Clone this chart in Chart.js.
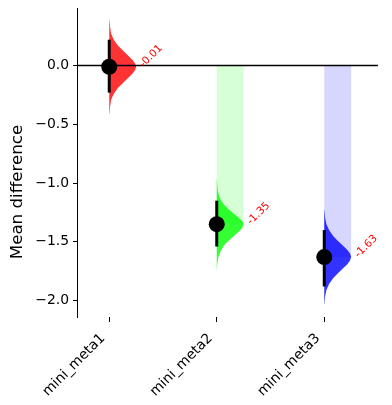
<!DOCTYPE html>
<html>
<head>
<meta charset="utf-8">
<script src="https://cdn.jsdelivr.net/npm/chart.js@4"></script>
<style>
  html, body { margin: 0; padding: 0; background: #fff; }
  canvas { display: block; }
</style>
</head>
<body>
<canvas id="chart" width="392" height="405"></canvas>
<script>
// Mean difference plot data
const categories = ['mini_meta1', 'mini_meta2', 'mini_meta3'];
const meanDiffs = [-0.01, -1.35, -1.63];
const ciLower = [-0.23, -1.54, -1.88];
const ciUpper = [0.22, -1.15, -1.40];
const yTicks = [0.0, -0.5, -1.0, -1.5, -2.0];

// bootstrap density: offset from the mean and relative width
const kdeOffsets = [0.40, 0.34, 0.28, 0.23, 0.18, 0.14, 0.10, 0.06, 0.03, 0, -0.03, -0.06, -0.10, -0.14, -0.18, -0.23, -0.28, -0.34, -0.40];
const kdeMeta1 = [0.01, 0.03, 0.07, 0.17, 0.32, 0.50, 0.68, 0.86, 0.96, 1, 0.96, 0.86, 0.68, 0.50, 0.32, 0.17, 0.07, 0.03, 0.01];
const kdeMeta2 = [0.0, 0.02, 0.04, 0.10, 0.22, 0.38, 0.58, 0.80, 0.94, 1, 0.95, 0.84, 0.64, 0.44, 0.27, 0.14, 0.06, 0.02, 0.0];
const kdeMeta3 = [0.01, 0.03, 0.08, 0.18, 0.33, 0.50, 0.68, 0.86, 0.96, 1, 0.96, 0.86, 0.68, 0.50, 0.33, 0.18, 0.08, 0.03, 0.01];

const kdes = [kdeMeta1, kdeMeta2, kdeMeta3];
const violinColors = ['rgba(255,0,0,0.8)', 'rgba(0,255,0,0.8)', 'rgba(0,0,255,0.8)'];
const barColors = ['rgba(255,0,0,0.16)', 'rgba(0,255,0,0.16)', 'rgba(0,0,255,0.16)'];
const halfWidth = 0.25;

const tickFont = { family: 'DejaVu Sans', size: 13.9 };

// datasets: first in list is drawn on top
const datasets = [];

datasets.push({
    label: 'mean',
    data: meanDiffs.map((m, i) => ({ x: i, y: m })),
    showLine: false,
    pointRadius: 8,
    pointBackgroundColor: '#000',
    pointBorderWidth: 0
});

meanDiffs.forEach((m, i) => {
    datasets.push({
        label: 'ci' + i,
        data: [{ x: i, y: ciLower[i] }, { x: i, y: ciUpper[i] }],
        borderColor: '#000',
        borderWidth: 3,
        pointRadius: 0
    });
});

datasets.push({
    label: 'zero',
    data: [{ x: -0.3, y: 0 }, { x: 2.5, y: 0 }],
    borderColor: '#000',
    borderWidth: 1.5,
    pointRadius: 0
});

meanDiffs.forEach((m, i) => {
    const pts = kdeOffsets.map((o, k) => ({ x: i + kdes[i][k] * halfWidth, y: m + o }));
    pts.push({ x: i, y: m + kdeOffsets[kdeOffsets.length - 1] });
    pts.push({ x: i, y: m + kdeOffsets[0] });
    datasets.push({
        label: 'violin' + i,
        data: pts,
        borderWidth: 0,
        borderColor: 'rgba(0,0,0,0)',
        backgroundColor: violinColors[i],
        fill: 'shape',
        pointRadius: 0,
        tension: 0
    });
});

meanDiffs.forEach((m, i) => {
    datasets.push({
        label: 'bar' + i,
        data: [{ x: i, y: 0 }, { x: i + halfWidth, y: 0 }, { x: i + halfWidth, y: m }, { x: i, y: m }],
        borderWidth: 0,
        borderColor: 'rgba(0,0,0,0)',
        backgroundColor: barColors[i],
        fill: 'shape',
        pointRadius: 0
    });
});

// red value labels and the y axis title
const annotations = {
    id: 'annotations',
    afterDatasetsDraw(chart) {
        const ctx = chart.ctx;
        const xs = chart.scales.x, ys = chart.scales.y;
        ctx.save();
        ctx.fillStyle = 'red';
        ctx.font = '10.5px "DejaVu Sans"';
        ctx.textAlign = 'left';
        ctx.textBaseline = 'middle';
        meanDiffs.forEach((m, i) => {
            ctx.save();
            ctx.translate(xs.getPixelForValue(i + 0.3), ys.getPixelForValue(m) - 1);
            ctx.rotate(-Math.PI / 4);
            ctx.fillText(m.toFixed(2), 0, 0);
            ctx.restore();
        });
        ctx.fillStyle = '#000';
        ctx.font = '16.7px "DejaVu Sans"';
        ctx.textAlign = 'center';
        ctx.textBaseline = 'middle';
        ctx.translate(18, 192);
        ctx.rotate(-Math.PI / 2);
        ctx.fillText('Mean difference', 0, 0);
        ctx.restore();
    }
};

new Chart(document.getElementById('chart'), {
    type: 'line',
    data: { datasets: datasets },
    plugins: [annotations],
    options: {
        responsive: false,
        animation: false,
        layout: { padding: { top: 8, right: 14, left: 0, bottom: 0 } },
        plugins: {
            legend: { display: false },
            tooltip: { enabled: false }
        },
        scales: {
            x: {
                type: 'linear',
                min: -0.3,
                max: 2.5,
                afterBuildTicks: (scale) => { scale.ticks = categories.map((c, i) => ({ value: i })); },
                afterFit: (scale) => { scale.height = 88; scale.paddingLeft = 0; scale.paddingRight = 0; },
                border: { display: false },
                grid: { drawOnChartArea: false, drawTicks: true, tickLength: 5, color: '#000' },
                ticks: {
                    // two trailing spaces keep the rotated label clear of the tick
                    callback: (v) => categories[v] + '  ',
                    minRotation: 45,
                    maxRotation: 45,
                    color: '#000',
                    font: tickFont,
                    padding: 2
                }
            },
            y: {
                type: 'linear',
                min: -2.14,
                max: 0.49,
                afterBuildTicks: (scale) => { scale.ticks = yTicks.map(v => ({ value: v })); },
                afterFit: (scale) => { scale.width = 77; scale.paddingTop = 0; scale.paddingBottom = 0; },
                border: { display: true, color: '#000', width: 1 },
                grid: { drawOnChartArea: false, drawTicks: true, tickLength: 4, color: '#000' },
                ticks: {
                    callback: (v) => v.toFixed(1).replace('-', '\u2212'),
                    color: '#000',
                    font: tickFont,
                    padding: 4
                }
            }
        }
    }
});
</script>
</body>
</html>
